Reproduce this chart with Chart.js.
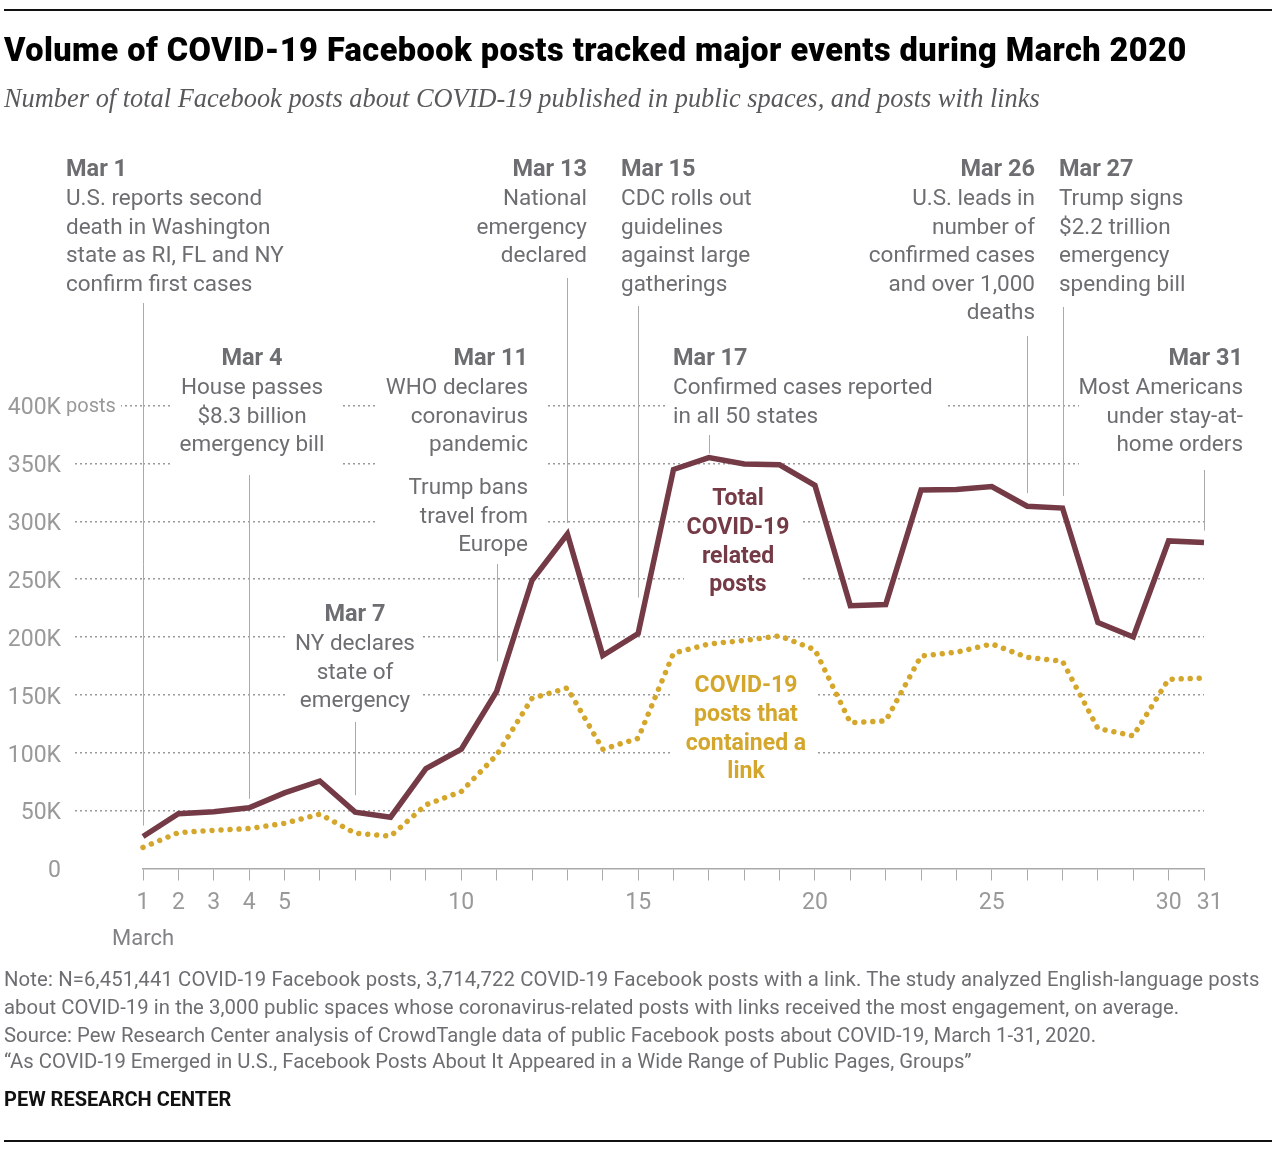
<!DOCTYPE html>
<html>
<head>
<meta charset="utf-8">
<script src="https://cdn.jsdelivr.net/npm/chart.js@4"></script>
<style>
  html, body { margin: 0; padding: 0; background: #fff; }
  #page { position: relative; width: 1276px; height: 1150px; overflow: hidden; }
  #page canvas { position: absolute; left: 0; top: 0; }
  .rule { position: absolute; left: 4px; width: 1268px; height: 2px; background: #111; }
  .txt { position: absolute; left: 4px; white-space: nowrap; }
  #title { top: 31px; font: 900 32.5px Roboto, sans-serif; letter-spacing: 0.45px; color: #000; }
  #subtitle { top: 83px; font: italic 26.4px "Liberation Serif", serif; color: #58595b; }
  .note { font: 20.3px Roboto, sans-serif; color: #6d6e71; }
  #brand { top: 1087px; font: 700 20px Roboto, sans-serif; color: #111; }
</style>
</head>
<body>
<div id="page">
  <canvas id="chart" width="1276" height="1150"></canvas>
  <div class="rule" style="top:9px"></div>
  <div id="title" class="txt">Volume of COVID-19 Facebook posts tracked major events during March 2020</div>
  <div id="subtitle" class="txt">Number of total Facebook posts about COVID-19 published in public spaces, and posts with links</div>
  <div class="txt note" style="top:967px;letter-spacing:.13px">Note: N=6,451,441 COVID-19 Facebook posts, 3,714,722 COVID-19 Facebook posts with a link. The study analyzed English-language posts</div>
  <div class="txt note" style="top:995px;letter-spacing:.06px">about COVID-19 in the 3,000 public spaces whose coronavirus-related posts with links received the most engagement, on average.</div>
  <div class="txt note" style="top:1023px;letter-spacing:.04px">Source: Pew Research Center analysis of CrowdTangle data of public Facebook posts about COVID-19, March 1-31, 2020.</div>
  <div class="txt note" style="top:1049px">“As COVID-19 Emerged in U.S., Facebook Posts About It Appeared in a Wide Range of Public Pages, Groups”</div>
  <div id="brand" class="txt">PEW RESEARCH CENTER</div>
  <div class="rule" style="top:1140px"></div>
</div>
<script>
var days = [1,2,3,4,5,6,7,8,9,10,11,12,13,14,15,16,17,18,19,20,21,22,23,24,25,26,27,28,29,30,31];
var totalPosts = [27600,47400,49000,52400,65300,75600,48700,44300,86300,103000,153000,249000,289000,184000,203000,344700,355000,349400,348800,331000,227000,228000,327000,327400,330000,313000,311400,212500,200000,283000,281600];
var linkPosts = [18200,31000,33000,34500,39000,47000,30500,28000,55000,66500,98000,147000,156000,103000,112400,186000,194000,197000,201000,189000,126000,127500,183600,186800,194000,182400,179000,121000,114600,163500,164500];
var yTickLabels = ["0","50K","100K","150K","200K","250K","300K","350K","400K"];
var xTickLabels = {1:"1",2:"2",3:"3",4:"4",5:"5",10:"10",15:"15",20:"20",25:"25",30:"30",31:"  31"};

// event notes: the day they point at, then heading and body lines
var eventDays = [1,13,15,26,27,4,11,17,31,7];
var eventHeads = ["Mar 1","Mar 13","Mar 15","Mar 26","Mar 27","Mar 4","Mar 11","Mar 17","Mar 31","Mar 7"];
var eventLines = [
  ["U.S. reports second","death in Washington","state as RI, FL and NY","confirm first cases"],
  ["National","emergency","declared"],
  ["CDC rolls out","guidelines","against large","gatherings"],
  ["U.S. leads in","number of","confirmed cases","and over 1,000","deaths"],
  ["Trump signs","$2.2 trillion","emergency","spending bill"],
  ["House passes","$8.3 billion","emergency bill"],
  ["WHO declares","coronavirus","pandemic"],
  ["Confirmed cases reported","in all 50 states"],
  ["Most Americans","under stay-at-","home orders"],
  ["NY declares","state of","emergency"]
];
var totalLabel = ["Total","COVID-19","related","posts"];
var linkLabel = ["COVID-19","posts that","contained a","link"];
var extraNote = ["Trump bans","travel from","Europe"];

// layout, same order as the event arrays: text anchor, first baseline, leader top and gap above the line
var eventLayout = [
  {x:66, align:"left", y:176, top:303, gap:11},
  {x:587, align:"right", y:176, top:278, gap:11},
  {x:621, align:"left", y:176, top:306, gap:36},
  {x:1035, align:"right", y:176, top:336, gap:13},
  {x:1059, align:"left", y:176, top:307, gap:12},
  {x:252, align:"center", y:365, top:475, gap:9},
  {x:528, align:"right", y:365, top:564, gap:30},
  {x:673, align:"left", y:365, top:435, gap:4},
  {x:1243, align:"right", y:365, top:470, gap:12},
  {x:355, align:"center", y:621, top:722, gap:17}
];
// white patches that knock the dotted grid out behind the notes
var masks = [
  [172,345,168,128],[378,345,167,215],[666,345,281,90],[1079,345,175,125],
  [286,600,134,118],[684,480,116,125],[672,670,146,110]
];

var FONT = "Roboto, sans-serif";
var MAROON = "#743a46";
var GOLD = "#d4a72c";
var NOTE = "#6d6e71";

function text(ctx, str, x, y, align, font, color) {
  ctx.font = font;
  ctx.textAlign = align;
  ctx.textBaseline = "alphabetic";
  ctx.fillStyle = color;
  ctx.fillText(str, x, y);
}

var annotations = {
  id: "annotations",
  beforeDatasetsDraw: function (chart) {
    var ctx = chart.ctx;
    var xs = chart.scales.x, ys = chart.scales.y;
    ctx.save();
    ctx.fillStyle = "#fff";
    masks.forEach(function (m) { ctx.fillRect(m[0], m[1], m[2], m[3]); });
    // room for the "posts" unit next to the top tick
    var y400 = ys.getPixelForValue(400000);
    ctx.fillRect(63, y400 - 14, 58, 28);
    text(ctx, "posts", 66, y400 + 6, "left", "20px " + FONT, "#999");

    ctx.strokeStyle = "#aaa";
    ctx.lineWidth = 1;
    eventDays.forEach(function (d, i) {
      var x = Math.round(xs.getPixelForValue(d)) + 0.5;
      var bottom = ys.getPixelForValue(totalPosts[d - 1]) - eventLayout[i].gap;
      ctx.beginPath();
      ctx.moveTo(x, eventLayout[i].top);
      ctx.lineTo(x, bottom);
      ctx.stroke();
    });
    ctx.restore();
  },
  afterDatasetsDraw: function (chart) {
    var ctx = chart.ctx;
    ctx.save();
    eventHeads.forEach(function (head, i) {
      var l = eventLayout[i];
      text(ctx, head, l.x, l.y, l.align, "700 23.5px " + FONT, NOTE);
      eventLines[i].forEach(function (line, j) {
        text(ctx, line, l.x, l.y + 29 + j * 28.5, l.align, "22.5px " + FONT, NOTE);
      });
    });
    extraNote.forEach(function (line, j) {
      text(ctx, line, 528, 494 + j * 28.5, "right", "22.5px " + FONT, NOTE);
    });
    totalLabel.forEach(function (line, j) {
      text(ctx, line, 738, 505 + j * 28.8, "center", "700 23px " + FONT, MAROON);
    });
    linkLabel.forEach(function (line, j) {
      text(ctx, line, 746, 692 + j * 28.8, "center", "700 23px " + FONT, GOLD);
    });
    text(ctx, "March", 143, 945, "center", "22px " + FONT, "#808285");
    ctx.restore();
  }
};

new Chart(document.getElementById("chart"), {
  type: "line",
  data: {
    labels: days,
    datasets: [
      {
        label: "COVID-19 posts that contained a link",
        data: linkPosts,
        borderColor: GOLD,
        borderWidth: 5.5,
        borderDash: [0.01, 9],
        borderCapStyle: "round",
        pointRadius: 0,
        tension: 0,
        clip: false
      },
      {
        label: "Total COVID-19 related posts",
        data: totalPosts,
        borderColor: MAROON,
        borderWidth: 5.5,
        borderJoinStyle: "miter",
        pointRadius: 0,
        tension: 0,
        clip: false
      }
    ]
  },
  options: {
    responsive: false,
    animation: false,
    devicePixelRatio: 1,
    layout: { padding: { top: 405.5, right: 72, left: 0, bottom: 0 } },
    plugins: { legend: { display: false }, tooltip: { enabled: false } },
    scales: {
      x: {
        type: "linear",
        min: 1,
        max: 31,
        afterFit: function (s) { s.height = 281.5; },
        border: { color: "#aaa", width: 1.5 },
        grid: { drawOnChartArea: false, drawTicks: true, tickLength: 12, color: "#aaa" },
        ticks: {
          stepSize: 1,
          autoSkip: false,
          maxRotation: 0,
          padding: 9,
          color: "#999",
          font: { family: "Roboto", size: 23 },
          callback: function (v) { return xTickLabels[v] || ""; }
        }
      },
      y: {
        min: 0,
        max: 400000,
        afterFit: function (s) { s.width = 143; },
        border: { display: false, dash: [2, 3] },
        grid: {
          tickLength: 68,
          lineWidth: 1.5,
          color: function (c) { return c.tick.value === 0 ? "transparent" : "#999"; },
          tickColor: function (c) { return c.tick.value === 0 ? "transparent" : "#999"; },
          tickBorderDash: [2, 3]
        },
        ticks: {
          stepSize: 50000,
          padding: 14,
          labelOffset: 3,
          color: "#999",
          font: { family: "Roboto", size: 23 },
          callback: function (v) { return yTickLabels[v / 50000]; }
        }
      }
    }
  },
  plugins: [annotations]
});
</script>
</body>
</html>
